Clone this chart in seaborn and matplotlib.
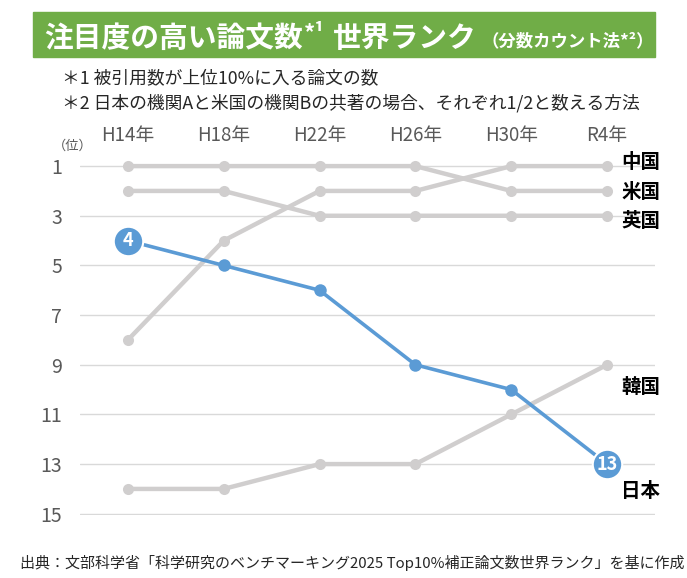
import matplotlib
matplotlib.use('Agg')
import matplotlib.pyplot as plt
import matplotlib.patches as mpatches
import pandas as pd
import seaborn as sns

# data
years = ['H14年', 'H18年', 'H22年', 'H26年', 'H30年', 'R4年']
countries = ['中国', '米国', '英国', '韓国', '日本']
rank_china = [8, 4, 2, 2, 1, 1]
rank_us = [1, 1, 1, 1, 2, 2]
rank_uk = [2, 2, 3, 3, 3, 3]
rank_korea = [14, 14, 13, 13, 11, 9]
rank_japan = [4, 5, 6, 9, 10, 13]
y_ticks = [1, 3, 5, 7, 9, 11, 13, 15]

ranks = {'中国': rank_china, '米国': rank_us, '英国': rank_uk,
         '韓国': rank_korea, '日本': rank_japan}

rows = []
for c in countries:
    for i, r in enumerate(ranks[c]):
        rows.append({'country': c, 'x': i, 'rank': r})
df = pd.DataFrame(rows)

sns.set_theme(style='white')
plt.rcParams['font.family'] = ['Noto Sans CJK JP', 'DejaVu Sans']

gray = '#D0CECE'
blue = '#5B9BD5'
tick_gray = '#595959'
W, H = 687, 578

fig = plt.figure(figsize=(6.87, 5.78), dpi=100)
ax = fig.add_axes([0.1164, 0.109, 0.837, 0.638])

for c in ['中国', '米国', '英国', '韓国']:
    sns.lineplot(data=df[df.country == c], x='x', y='rank', color=gray,
                 linewidth=3.2, marker='o', markersize=8, markeredgewidth=0,
                 ax=ax, zorder=2)
sns.lineplot(data=df[df.country == '日本'], x='x', y='rank', color=blue,
             linewidth=2.6, marker='o', markersize=9, markeredgewidth=0,
             ax=ax, zorder=4)

# big numbered circles for Japan first/last
for i in [0, len(years) - 1]:
    ax.scatter([i], [rank_japan[i]], s=450, color=blue, edgecolor='white',
               linewidth=1.5, zorder=5)
    ax.text(i, rank_japan[i], str(rank_japan[i]), color='white',
            fontsize=13, fontweight='bold', ha='center', va='center',
            zorder=6)

# country labels at right
label_off = {'中国': -0.16, '米国': 0.08, '英国': 0.25, '韓国': 0.9, '日本': 1.1}
last = len(years) - 1
for c in countries:
    ax.text(last + 0.15, ranks[c][last] + label_off[c], c, fontsize=14,
            fontweight='bold', color='black', ha='left', va='center',
            zorder=6)

ax.set_xlim(-0.5, 5.5)
ax.set_ylim(15.05, 0.2)
ax.set_yticks(y_ticks)
ax.set_yticklabels([str(t) for t in y_ticks], color=tick_gray, fontsize=14)
ax.set_xticks(range(len(years)))
ax.set_xticklabels(years, color=tick_gray, fontsize=13.5)
ax.xaxis.tick_top()
ax.tick_params(axis='y', length=0, pad=13)
ax.tick_params(axis='x', length=0, pad=0)
ax.grid(axis='y', color='#D9D9D9', linewidth=1)
ax.set_xlabel('')
ax.set_ylabel('')
for s in ax.spines.values():
    s.set_visible(False)

fig.text(73 / W, 1 - 146 / H, '（位）', fontsize=9.5, color=tick_gray,
         ha='center', va='center')

# title banner
fig.patches.append(mpatches.Rectangle((33 / W, 1 - 57 / H), 622 / W, 45 / H,
                                      transform=fig.transFigure,
                                      color='#70AD47', zorder=0))
renderer = fig.canvas.get_renderer()
pieces = [('注目度の高い論文数', 20.7, 47, 0),
          ('*¹', 16, 40, 1),
          ('世界ランク', 20.7, 47, 9),
          ('（分数カウント法*²）', 12.5, 46, 4)]
xpos = 44
for txt, size, base, gap in pieces:
    xpos += gap
    t = fig.text(xpos / W, 1 - base / H, txt, fontsize=size,
                 fontweight='bold', color='white', ha='left', va='baseline')
    xpos = t.get_window_extent(renderer).x1

# notes
fig.text(62 / W, 1 - 78 / H, '＊1 被引用数が上位10%に入る論文の数',
         fontsize=12.8, color='#262626', ha='left', va='center')
fig.text(62 / W, 1 - 103 / H,
         '＊2 日本の機関Aと米国の機関Bの共著の場合、それぞれ1/2と数える方法',
         fontsize=12.8, color='#262626', ha='left', va='center')

# source
fig.text(20 / W, 1 - 563 / H,
         '出典：文部科学省「科学研究のベンチマーキング2025 Top10%補正論文数世界ランク」を基に作成',
         fontsize=10.8, color='#262626', ha='left', va='center')

fig.savefig('out.png', dpi=100)
